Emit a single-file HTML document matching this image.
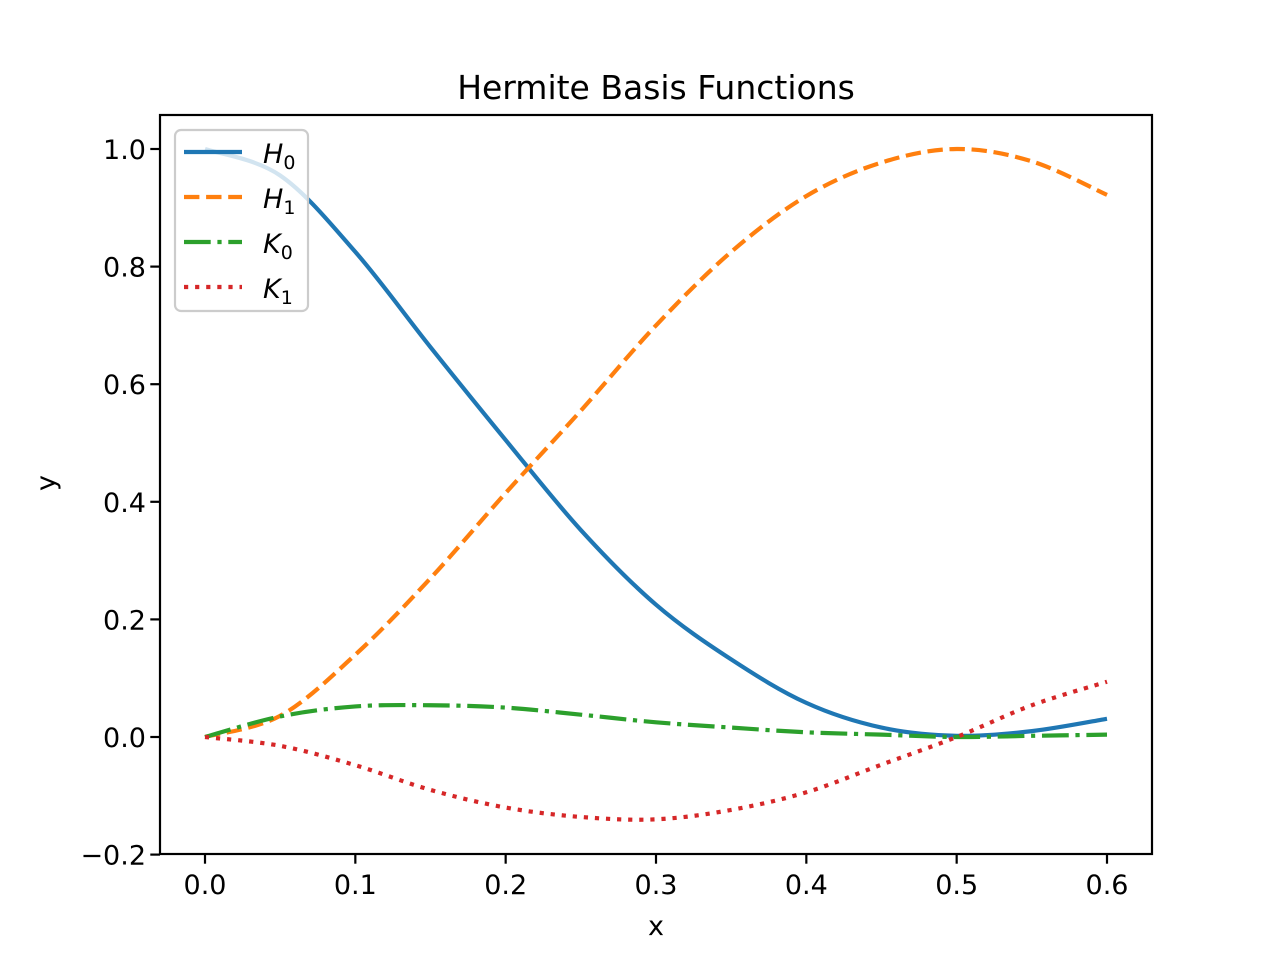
<!DOCTYPE html>
<html><head><meta charset="utf-8"><style>
body{margin:0;background:#fff}
svg{display:block;font-family:"DejaVu Sans","Liberation Sans",sans-serif}
</style></head><body>
<svg id="chart" width="1280" height="960" viewBox="0 0 1280 960" xmlns="http://www.w3.org/2000/svg">
<rect width="1280" height="960" fill="#fff"/>
<text x="656" y="99" font-size="33" text-anchor="middle">Hermite Basis Functions</text>
<g id="plot"></g>
<g id="axes"></g>
<text x="656" y="935" font-size="27" text-anchor="middle">x</text>
<text transform="translate(55,483) rotate(-90)" font-size="27" text-anchor="middle">y</text>
<g>
<rect x="175" y="130" width="133" height="181" rx="6" fill="#fff" fill-opacity="0.8" stroke="#ccc" stroke-width="2.2"/>
<line x1="184" y1="152" x2="242" y2="152" stroke="#1f77b4" stroke-width="4.2"/>
<text x="263" y="163" font-size="27" font-style="italic">H<tspan font-style="normal" font-size="19" dy="6">0</tspan></text>
<line x1="184" y1="197" x2="242" y2="197" stroke="#ff7f0e" stroke-width="4.2" stroke-dasharray="15.4,6.7"/>
<text x="263" y="208" font-size="27" font-style="italic">H<tspan font-style="normal" font-size="19" dy="6">1</tspan></text>
<line x1="184" y1="242" x2="242" y2="242" stroke="#2ca02c" stroke-width="4.2" stroke-dasharray="26.7,6.7,4.2,6.7"/>
<text x="263" y="253" font-size="27" font-style="italic">K<tspan font-style="normal" font-size="19" dy="6">0</tspan></text>
<line x1="184" y1="287" x2="242" y2="287" stroke="#d62728" stroke-width="4.2" stroke-dasharray="4.2,6.9"/>
<text x="263" y="298" font-size="27" font-style="italic">K<tspan font-style="normal" font-size="19" dy="6">1</tspan></text>
</g>
</svg>
<script>
const xs = [0,0.05,0.1,0.15,0.2,0.25,0.3,0.35,0.4,0.45,0.5,0.55,0.6];
const h0 = [1.0,0.955,0.825,0.663,0.505,0.352,0.225,0.132,0.058,0.016,0.002,0.01,0.031];
const h1 = [0,0.036,0.14,0.27,0.415,0.555,0.70,0.825,0.92,0.977,1.0,0.979,0.922];
const k0 = [0,0.035,0.052,0.054,0.05,0.038,0.025,0.016,0.008,0.004,0.0,0.002,0.004];
const k1 = [0,-0.015,-0.048,-0.09,-0.12,-0.136,-0.14,-0.124,-0.094,-0.047,0.0,0.054,0.094];
const xTicks = [0,0.1,0.2,0.3,0.4,0.5,0.6];
const yTicks = [-0.2,0,0.2,0.4,0.6,0.8,1.0];

const L=160,R=1152,T=115,B=854;
function sx(v){return 205+(v-0)*(1107-205)/0.6;}
function sy(v){return 737-v*588;}
const NS='http://www.w3.org/2000/svg';
const plot=document.getElementById('plot');
const axes=document.getElementById('axes');
function pathFor(ys){
  const p=xs.map((x,i)=>[sx(x),sy(ys[i])]);
  let d='M'+p[0][0]+','+p[0][1];
  for(let i=0;i<p.length-1;i++){
    const p0=p[Math.max(0,i-1)],p1=p[i],p2=p[i+1],p3=p[Math.min(p.length-1,i+2)];
    const c1=[p1[0]+(p2[0]-p0[0])/6,p1[1]+(p2[1]-p0[1])/6];
    const c2=[p2[0]-(p3[0]-p1[0])/6,p2[1]-(p3[1]-p1[1])/6];
    d+=' C'+c1+' '+c2+' '+p2;
  }
  return d;
}
const series=[[h0,'#1f77b4','','series-h0'],[h1,'#ff7f0e','15.4,6.7','series-h1'],[k0,'#2ca02c','26.7,6.7,4.2,6.7','series-k0'],[k1,'#d62728','4.2,6.9','series-k1']];
series.forEach(s=>{
  const el=document.createElementNS(NS,'path');
  el.setAttribute('d',pathFor(s[0]));
  el.setAttribute('fill','none');
  el.setAttribute('stroke',s[1]);
  el.setAttribute('stroke-width','4.2');
  if(s[2])el.setAttribute('stroke-dasharray',s[2]);
  
  
  plot.appendChild(el);
});
const frame=document.createElementNS(NS,'rect');
frame.setAttribute('x',L);frame.setAttribute('y',T);frame.setAttribute('width',R-L);frame.setAttribute('height',B-T);
frame.setAttribute('fill','none');frame.setAttribute('stroke','#000');frame.setAttribute('stroke-width','2.2');


axes.appendChild(frame);
xTicks.forEach(v=>{
  const x=sx(v);
  const t=document.createElementNS(NS,'line');
  t.setAttribute('x1',x);t.setAttribute('x2',x);t.setAttribute('y1',B);t.setAttribute('y2',B+9.7);
  t.setAttribute('stroke','#000');t.setAttribute('stroke-width','2.2');
  
  
  axes.appendChild(t);
  const tx=document.createElementNS(NS,'text');
  tx.setAttribute('x',x);tx.setAttribute('y',894);tx.setAttribute('font-size','27');tx.setAttribute('text-anchor','middle');
  tx.textContent=v.toFixed(1);
  
  
  axes.appendChild(tx);
});
yTicks.forEach(v=>{
  const y=sy(v);
  const t=document.createElementNS(NS,'line');
  t.setAttribute('x1',L-9.7);t.setAttribute('x2',L);t.setAttribute('y1',y);t.setAttribute('y2',y);
  t.setAttribute('stroke','#000');t.setAttribute('stroke-width','2.2');
  
  
  axes.appendChild(t);
  const tx=document.createElementNS(NS,'text');
  tx.setAttribute('x',146);tx.setAttribute('y',y+10);tx.setAttribute('font-size','27');tx.setAttribute('text-anchor','end');
  tx.textContent=(v<0?'\u2212'+Math.abs(v).toFixed(1):v.toFixed(1));
  
  
  axes.appendChild(tx);
});
</script>
</body></html>
